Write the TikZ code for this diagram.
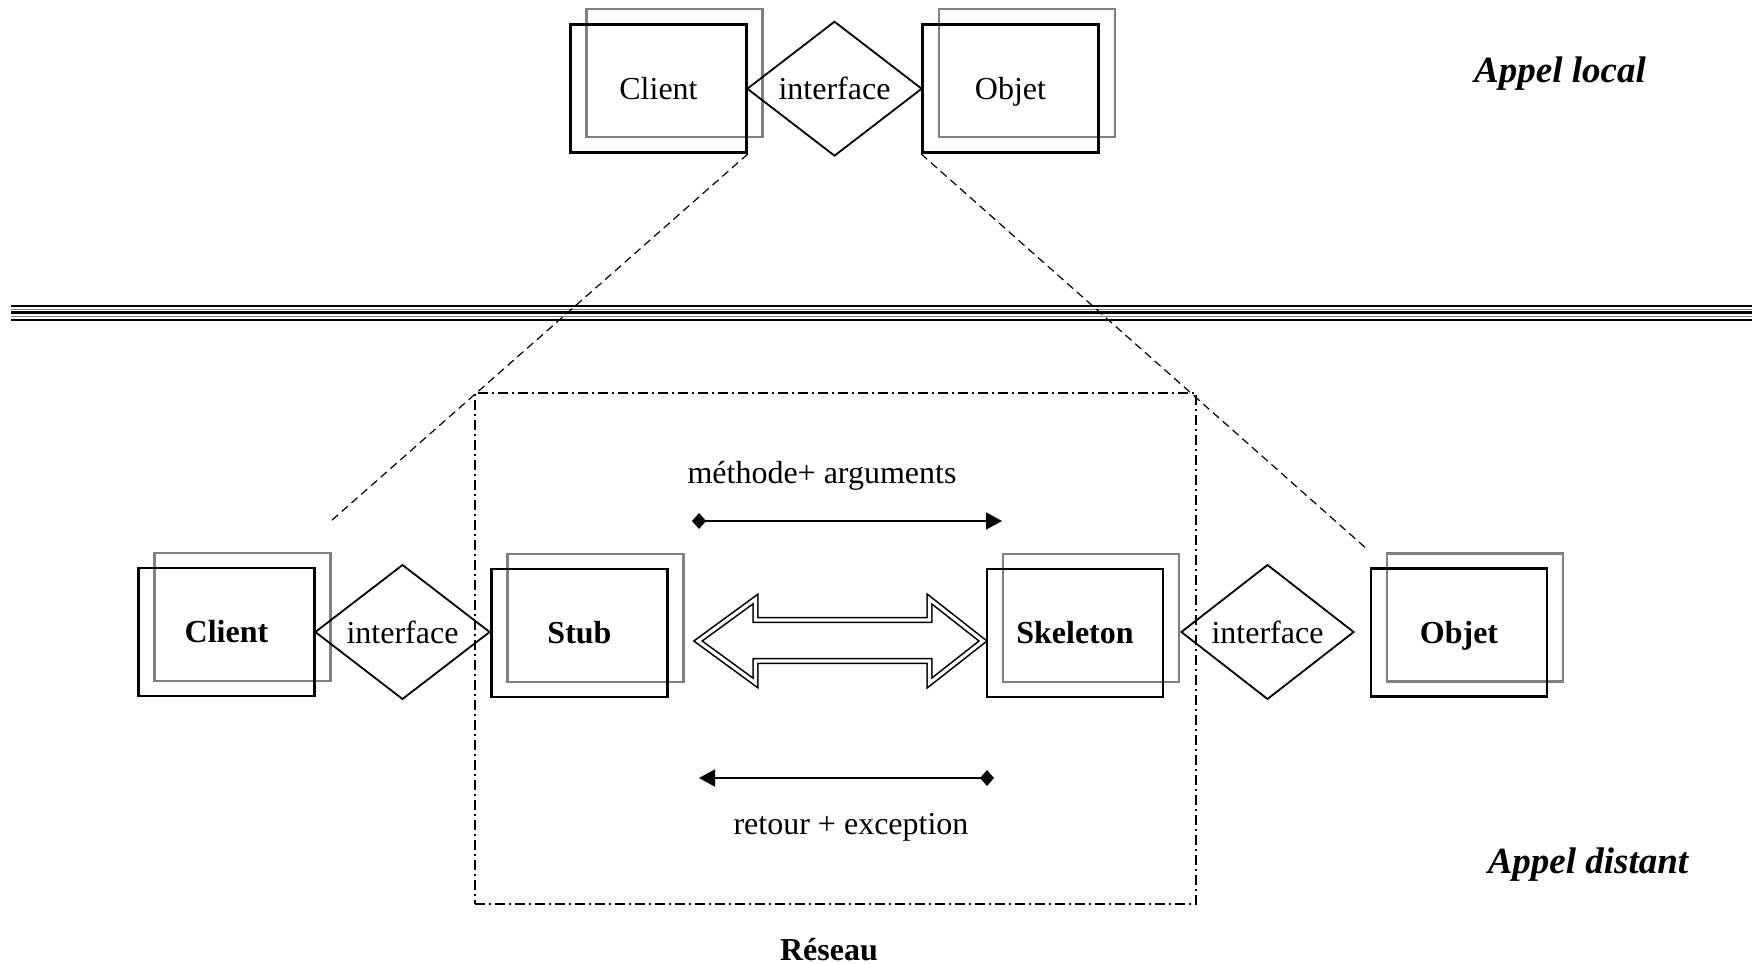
\documentclass[tikz,border=0pt]{standalone}
\usepackage{fontspec}
\setmainfont{Liberation Serif}
\usetikzlibrary{shapes.geometric,arrows.meta}
\tikzset{
  boxsize/.style={minimum width=88pt, minimum height=64pt},
  bkbox/.style={draw=black, line width=1.3pt, inner sep=0pt, text height=10.5pt, text depth=0pt},
  grbox/.style={draw=black!50, line width=1.2pt, inner sep=0pt},
  iface/.style={draw=black, shape=diamond, line width=0.9pt, inner sep=0pt},
  bottext/.style={font=\fontsize{16}{19}\selectfont},
  botbold/.style={font=\fontsize{16}{19}\selectfont\bfseries},
  titletext/.style={font=\fontsize{18.5}{22}\selectfont\bfseries\itshape},
  proj/.style={draw=black, line width=0.6pt, dash pattern=on 4pt off 2.5pt},
  netbox/.style={draw=black, line width=0.75pt, dash pattern=on 5pt off 2pt on 1pt off 2pt, inner sep=0pt},
  msg/.style={draw=black, line width=0.8pt},
  msgtips/.style={{Diamond[length=7pt,width=8pt]}-{Triangle[length=8pt,width=8.5pt]}},
  dblarrow/.style={draw=black, line width=0.8pt, double=white, double distance=1.6pt, line join=miter},
  sepblack/.style={draw=black},
  sepgray/.style={draw=black!50, line width=0.5pt}
}
\begin{document}
\begin{tikzpicture}[x=0.5pt,y=-0.5pt]
\useasboundingbox (0,0) rectangle (1752,964);
% separator
\draw[sepblack, line width=1pt] (11,306) -- (1752,306);
\draw[sepgray] (11,309.3) -- (1752,309.3);
\draw[sepblack, line width=1.5pt] (11,312.7) -- (1752,312.7);
\draw[sepgray] (11,316) -- (1752,316);
\draw[sepblack, line width=1pt] (11,319.5) -- (1752,319.5);

% top row: local call
\node[grbox, boxsize] (cgt) at (674.5,73) {};
\node[bkbox, boxsize, bottext] (ct) at (658.5,88.7) {Client};
\node[iface, bottext, minimum width=87.5pt, minimum height=64.3pt] (it) at (834.5,88.7) {interface};
\node[grbox, boxsize] (ogt) at (1027,73) {};
\node[bkbox, boxsize, bottext] (ot) at (1010.5,88.7) {Objet};
\node[titletext] (al) at (1560,73.5) {Appel local};

% network box
\node[netbox, minimum width=360.5pt, minimum height=255.5pt] (net) at (835.5,648.5) {};

% projection lines
\coordinate (pl) at (331,521);
\coordinate (pr) at (1368,550);
\draw[proj] (ct.south east) -- (pl);
\draw[proj] (ot.south west) -- (pr);

% bottom row: remote call
\node[grbox, boxsize] (cgb) at (242.5,617) {};
\node[bkbox, boxsize, botbold] (cb) at (226.5,632) {Client};
\node[iface, bottext, minimum width=87.5pt, minimum height=64pt] (ib1) at (402.5,632) {interface};
\node[grbox, boxsize] (sg) at (595.5,618) {};
\node[bkbox, boxsize, botbold] (stub) at (579.5,633) {Stub};
\node[grbox, boxsize] (kg) at (1091,618) {};
\node[bkbox, boxsize, botbold] (skel) at (1075,633) {Skeleton};
\node[iface, bottext, minimum width=86.5pt, minimum height=64pt] (ib2) at (1267.5,632) {interface};
\node[grbox, boxsize] (obg) at (1475,617.5) {};
\node[bkbox, boxsize, botbold] (ob) at (1459,632.5) {Objet};

% big double arrow
\draw[dblarrow] (698,641) -- (755.5,599) -- (755.5,620) -- (929.5,620) -- (929.5,599) -- (983,641)
  -- (929.5,683) -- (929.5,661) -- (755.5,661) -- (755.5,683) -- cycle;

% messages
\node[bottext] (ma) at (822,475.5) {méthode+ arguments};
\coordinate (m1s) at (692,521);
\coordinate (m1e) at (1002,521);
\draw[msg, msgtips] (m1s) -- (m1e);
\coordinate (m2s) at (994,778);
\coordinate (m2e) at (699,778);
\draw[msg, msgtips] (m2s) -- (m2e);
\node[bottext] (re) at (851,827.5) {retour + exception};

\node[titletext] (ad) at (1588,864.5) {Appel distant};
\node[botbold, anchor=base] (res) at (829,960) {Réseau};
\end{tikzpicture}
\end{document}
